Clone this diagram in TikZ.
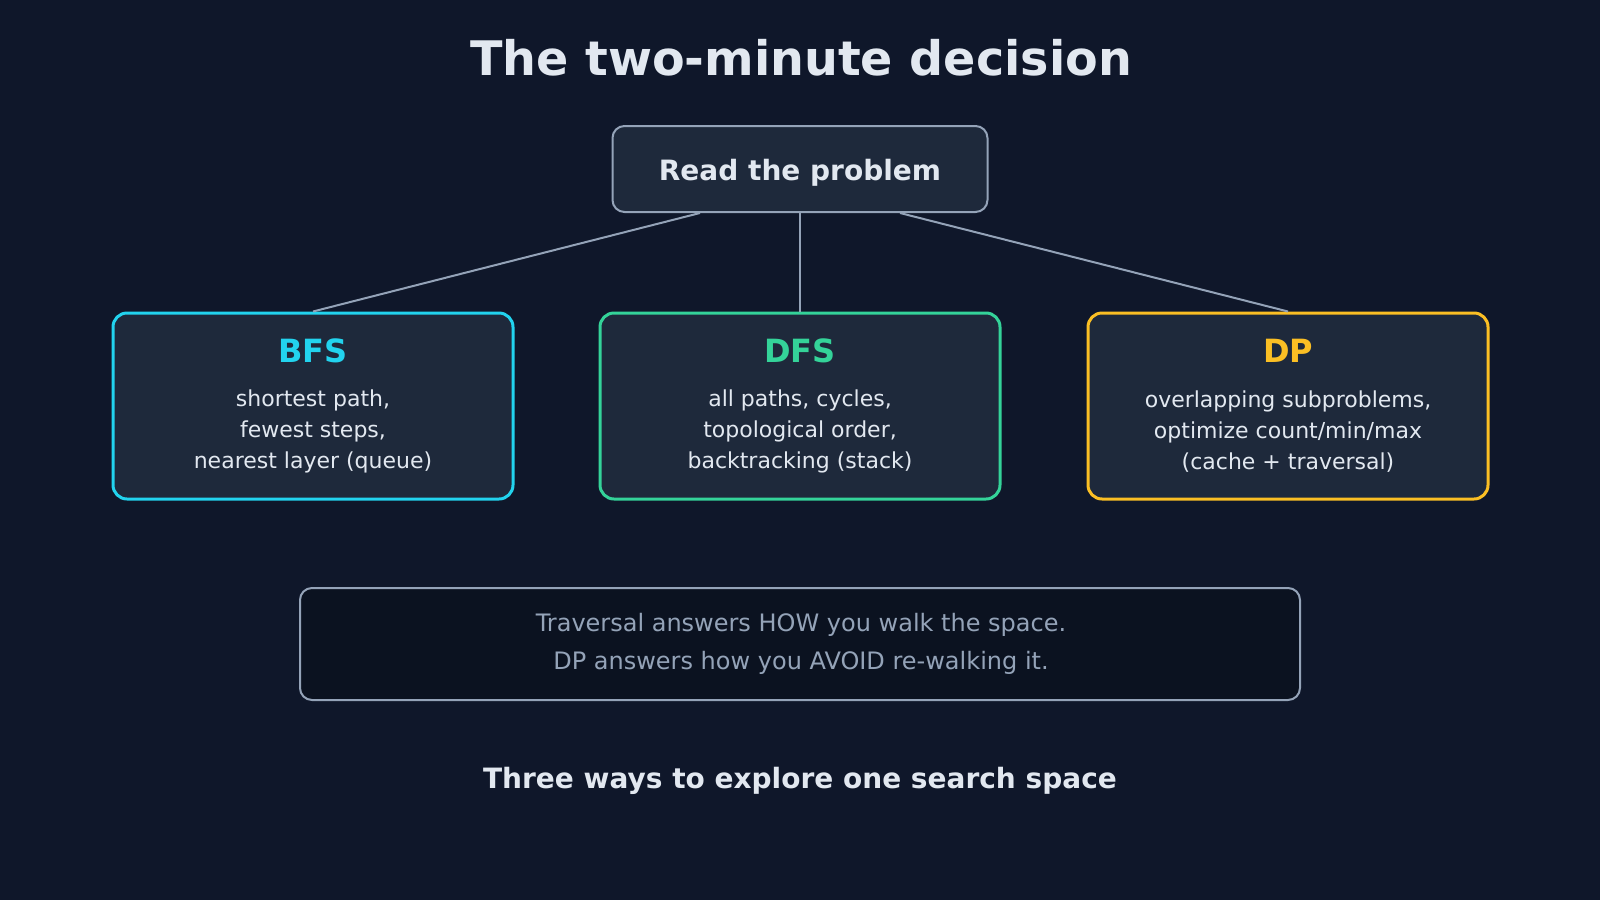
\documentclass[tikz,border=0pt]{standalone}
\usepackage{fontspec}
\setmainfont{DejaVu Sans}
\definecolor{bgnavy}{HTML}{0F172A}
\definecolor{panel}{HTML}{1E293B}
\definecolor{notebg}{HTML}{0B1220}
\definecolor{edgegray}{HTML}{94A3B8}
\definecolor{lighttext}{HTML}{E2E8F0}
\definecolor{bfscyan}{HTML}{22D3EE}
\definecolor{dfsgreen}{HTML}{34D399}
\definecolor{dpamber}{HTML}{FBBF24}
\usetikzlibrary{positioning,calc}

\begin{document}
\begin{tikzpicture}[x=1pt, y=-1pt,
    card/.style={draw=#1, line width=3pt, fill=panel, rounded corners=14pt,
        minimum width=400pt, minimum height=186pt, inner sep=0pt},
    cardhead/.style={text=#1, font=\fontsize{32}{38}\selectfont\bfseries},
    cardbody/.style={text=lighttext, align=center, font=\fontsize{22}{31}\selectfont},
    link/.style={draw=edgegray, line width=2pt}]
    % Background
    \fill[bgnavy] (0,0) rectangle (1600,900);
    \useasboundingbox (0,0) rectangle (1600,900);

    % Title
    \node[text=lighttext, font=\fontsize{47.6}{55}\selectfont\bfseries] (title) at (801,58) {The two-minute decision};

    % Start box
    \node[draw=edgegray, line width=2pt, fill=panel, rounded corners=12pt,
        minimum width=375pt, minimum height=86pt] (read) at (800,169) {};
    \node[text=lighttext, font=\fontsize{28}{34}\selectfont\bfseries] (readtext) at ($(read.center)+(0,4)$) {Read the problem};

    % Cards
    \node[card=bfscyan] (bfs) at (313,406) {};
    \node[card=dfsgreen] (dfs) at (800,406) {};
    \node[card=dpamber] (dp) at (1288,406) {};

    % Links
    \draw[link] ([xshift=-100pt]read.south) -- (bfs.north);
    \draw[link] (read.south) -- (dfs.north);
    \draw[link] ([xshift=100pt]read.south) -- (dp.north);

    % Card texts
    \node[cardhead=bfscyan] (bfshead) at ($(bfs.north)+(0,39)$) {BFS};
    \node[cardhead=dfsgreen] (dfshead) at ($(dfs.north)+(0,39)$) {DFS};
    \node[cardhead=dpamber] (dphead) at ($(dp.north)+(0,39)$) {DP};
    \node[cardbody] (bfsbody) at ($(bfs.north)+(0,120)$) {shortest path,\\fewest steps,\\nearest layer (queue)};
    \node[cardbody] (dfsbody) at ($(dfs.north)+(0,120)$) {all paths, cycles,\\topological order,\\backtracking (stack)};
    \node[cardbody] (dpbody) at ($(dp.north)+(0,120)$) {overlapping subproblems,\\optimize count/min/max\\(cache + traversal)};

    % Note
    \node[draw=edgegray, line width=2pt, fill=notebg, rounded corners=12pt,
        minimum width=1000pt, minimum height=112pt] (note) at (800,644) {};
    \node[text=edgegray, align=center, font=\fontsize{24}{37.5}\selectfont] (notetext) at ($(note.center)+(1,0)$)
        {Traversal answers HOW you walk the space.\\DP answers how you AVOID re-walking it.};

    % Footer
    \node[text=lighttext, font=\fontsize{28}{34}\selectfont\bfseries] (footer) at (800,781) {Three ways to explore one search space};
\end{tikzpicture}
\end{document}
